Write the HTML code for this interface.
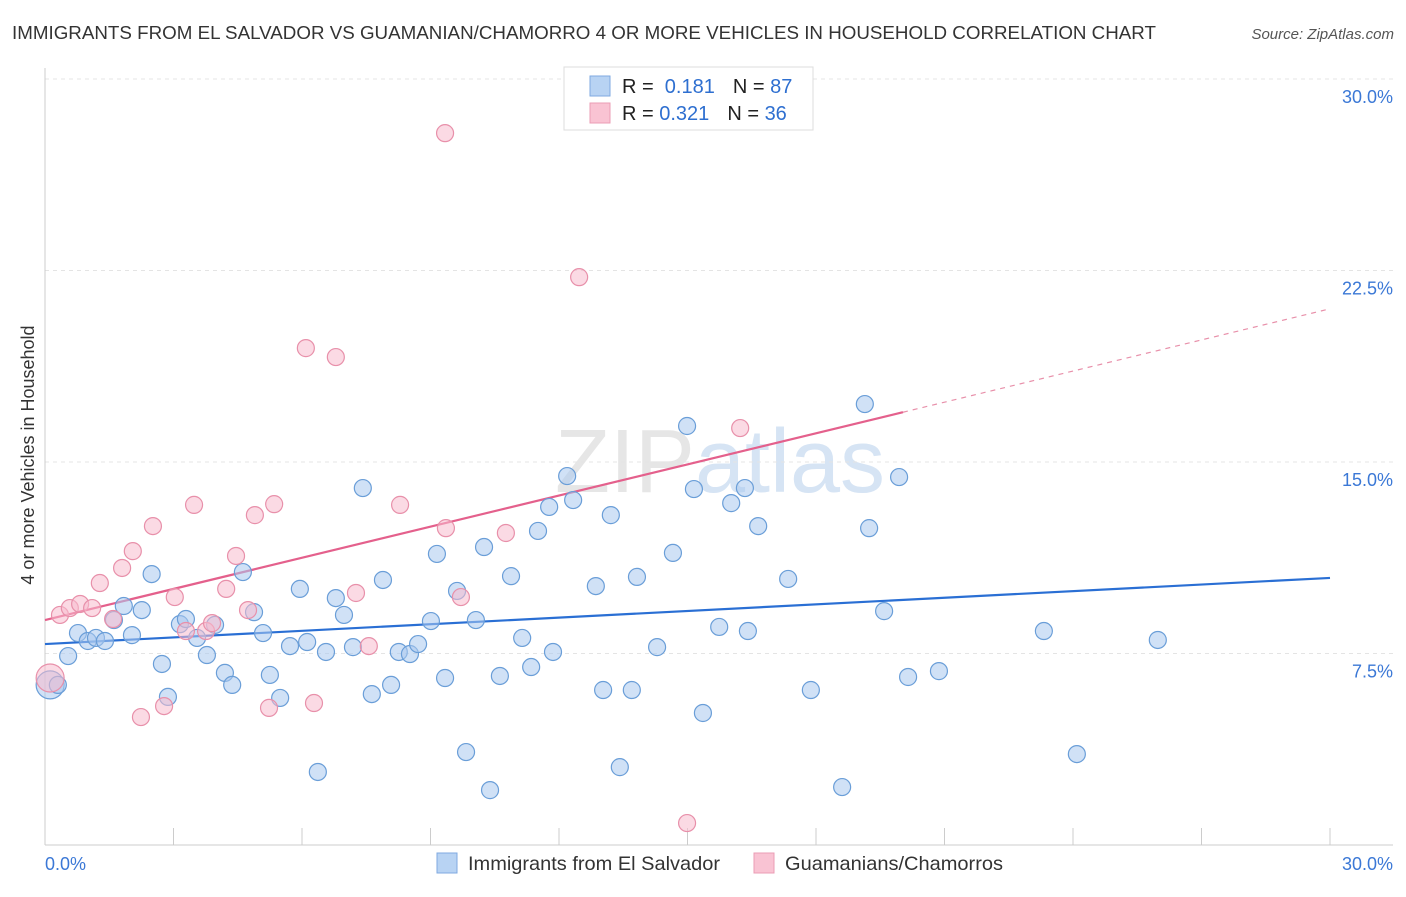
<!DOCTYPE html>
<html><head><meta charset="utf-8"><style>
body{margin:0;background:#fff;font-family:"Liberation Sans",sans-serif}
svg text{font-family:"Liberation Sans",sans-serif}
</style></head><body>
<svg id="chart" width="1406" height="892" xmlns="http://www.w3.org/2000/svg">
<text x="12" y="39" font-size="18" fill="#333" textLength="1144" lengthAdjust="spacingAndGlyphs">IMMIGRANTS FROM EL SALVADOR VS GUAMANIAN/CHAMORRO 4 OR MORE VEHICLES IN HOUSEHOLD CORRELATION CHART</text>
<text x="1394" y="39" font-size="15" fill="#555" font-style="italic" text-anchor="end">Source: ZipAtlas.com</text>
<text transform="translate(34,455) rotate(-90)" font-size="18" fill="#333" text-anchor="middle">4 or more Vehicles in Household</text>
<text x="720" y="492" font-size="90" fill="#e6e6e6" text-anchor="middle" font-family="Liberation Serif">ZIP<tspan fill="#d6e4f4" font-family="Liberation Sans">atlas</tspan></text>
<g id="grid"></g><g id="axes"></g><g id="trends"></g><g id="pts"></g>
<g>
<rect x="564" y="67" width="249" height="63" fill="#fff" stroke="#ddd"/>
<rect x="590" y="76" width="20" height="20" fill="#b8d3f3" stroke="#7fa9e0"/>
<rect x="590" y="103" width="20" height="20" fill="#f9c3d3" stroke="#eb9db5"/>
<text x="622" y="93" font-size="20" fill="#222">R = <tspan fill="#2e6fd0">&#160;0.181</tspan><tspan dx="18">N = </tspan><tspan fill="#2e6fd0">87</tspan></text>
<text x="622" y="120" font-size="20" fill="#222">R = <tspan fill="#2e6fd0">0.321</tspan><tspan dx="18">N = </tspan><tspan fill="#2e6fd0">36</tspan></text>
</g>
<g>
<rect x="437" y="853" width="20" height="20" fill="#b8d3f3" stroke="#7fa9e0"/>
<text x="468" y="870" font-size="19.5" fill="#333" textLength="252" lengthAdjust="spacingAndGlyphs">Immigrants from El Salvador</text>
<rect x="754" y="853" width="20" height="20" fill="#f9c3d3" stroke="#eb9db5"/>
<text x="785" y="870" font-size="19.5" fill="#333" textLength="218" lengthAdjust="spacingAndGlyphs">Guamanians/Chamorros</text>
</g>
</svg>
<script>
const yTicks=[7.5,15,22.5,30];
const yTickLabels=["7.5%","15.0%","22.5%","30.0%"];
const blueX=[0.12,0.30,0.54,0.77,1.00,1.19,1.40,1.61,1.84,2.03,2.26,2.49,2.73,2.87,3.15,3.29,3.55,3.78,3.97,4.20,4.37,4.62,4.88,5.09,5.25,5.49,5.72,5.95,6.12,6.37,6.56,6.79,6.98,7.19,7.42,7.63,7.89,8.08,8.26,8.52,8.71,9.01,9.15,9.34,9.62,9.83,10.06,10.25,10.39,10.62,10.88,11.14,11.35,11.51,11.77,11.86,12.19,12.33,12.86,13.03,13.21,13.42,13.70,13.82,14.29,14.66,14.99,15.15,15.36,15.74,16.02,16.34,16.41,16.65,17.35,17.88,18.61,19.14,19.24,19.59,19.94,20.15,20.87,23.32,24.09,25.98];
const blueY=[6.27,6.27,7.40,8.30,7.99,8.11,7.99,8.81,9.36,8.22,9.20,10.61,7.09,5.80,8.65,8.85,8.11,7.44,8.62,6.74,6.27,10.69,9.12,8.30,6.66,5.76,7.79,10.03,7.95,2.86,7.56,9.67,9.01,7.75,13.98,5.91,10.38,6.27,7.56,7.48,7.87,8.77,11.40,6.54,9.95,3.64,8.81,11.67,2.15,6.62,10.53,8.11,6.97,12.30,13.24,7.56,14.45,13.51,10.14,6.07,12.92,3.05,6.07,10.50,7.75,11.44,16.41,13.94,5.17,8.54,13.39,13.98,8.38,12.49,10.42,6.07,2.27,17.27,12.41,9.16,14.41,6.58,6.81,8.38,3.56,8.03];
const pinkX=[0.12,0.35,0.58,0.82,1.10,1.28,1.59,1.80,2.05,2.24,2.52,2.78,3.03,3.29,3.48,3.76,3.90,4.23,4.46,4.90,4.74,5.23,5.35,6.09,6.28,6.79,7.26,7.56,8.29,9.34,9.36,9.71,10.76,12.47,14.99,16.23];
const pinkY=[6.54,9.01,9.28,9.44,9.28,10.26,8.85,10.85,11.51,5.01,12.49,5.44,9.71,8.38,13.32,8.38,8.69,10.03,11.32,12.92,9.20,5.37,13.35,19.46,5.56,19.11,9.87,7.79,13.32,27.88,12.41,9.71,12.22,22.24,0.86,16.33];
const blueTrend=[7.87,10.46];
const pinkTrend=[8.81,21.0];
const pinkSolidEnd=20.03;
const NS="http://www.w3.org/2000/svg";
const X=v=>45+v/30*1285, Y=v=>845-v/7.5*191.5;
function mk(p,t,a){const e=document.createElementNS(NS,t);for(const k in a)e.setAttribute(k,a[k]);document.getElementById(p).appendChild(e);return e;}
let g=mk('grid','line',{x1:45,x2:1393,y1:Y(30),y2:Y(30),stroke:'#ddd','stroke-dasharray':'4,4'});

yTicks.forEach((t,i)=>{
 const l=mk('grid','line',{x1:45,x2:1393,y1:Y(t),y2:Y(t),stroke:'#e4e4e4','stroke-dasharray':'4,4'});
 
 
 const tx=mk('axes','text',{x:1393,y:Y(t)+24,'font-size':18,fill:'#3b78d6','text-anchor':'end'});
 tx.textContent=yTickLabels[i];
 
 
});
let a=mk('axes','line',{x1:45,x2:1393,y1:845,y2:845,stroke:'#ccc'});

a=mk('axes','line',{x1:45,x2:45,y1:68,y2:845,stroke:'#ccc'});

for(let i=0;i<=10;i++){const t=mk('axes','line',{x1:X(i*3),x2:X(i*3),y1:828,y2:845,stroke:'#ccc'});
 
 }
let t0=mk('axes','text',{x:45,y:870,'font-size':18,fill:'#3b78d6'});t0.textContent='0.0%';

let t1=mk('axes','text',{x:1393,y:870,'font-size':18,fill:'#3b78d6','text-anchor':'end'});t1.textContent='30.0%';

function dots(xs,ys,fill,stroke,name){xs.forEach((x,i)=>{const c=mk('pts','circle',{cx:X(x),cy:Y(ys[i]),r:i==0?14:8.5,fill:fill,'fill-opacity':0.55,stroke:stroke,'stroke-width':1.2});
 
 });}
dots(blueX,blueY,'#a9c8ee','#6a9ed8','salvador-point');
dots(pinkX,pinkY,'#f7bccd','#e890aa','chamorro-point');
let l=mk('trends','line',{x1:X(0),y1:Y(blueTrend[0]),x2:X(30),y2:Y(blueTrend[1]),stroke:'#2a6fd4','stroke-width':2.2});

const pm=(pinkTrend[1]-pinkTrend[0])/30, py=v=>pinkTrend[0]+pm*v;
l=mk('trends','line',{x1:X(0),y1:Y(pinkTrend[0]),x2:X(pinkSolidEnd),y2:Y(py(pinkSolidEnd)),stroke:'#e4608c','stroke-width':2.2});

l=mk('trends','line',{x1:X(pinkSolidEnd),y1:Y(py(pinkSolidEnd)),x2:X(30),y2:Y(pinkTrend[1]),stroke:'#e890aa','stroke-width':1.2,'stroke-dasharray':'5,5'});

</script>
</body></html>
